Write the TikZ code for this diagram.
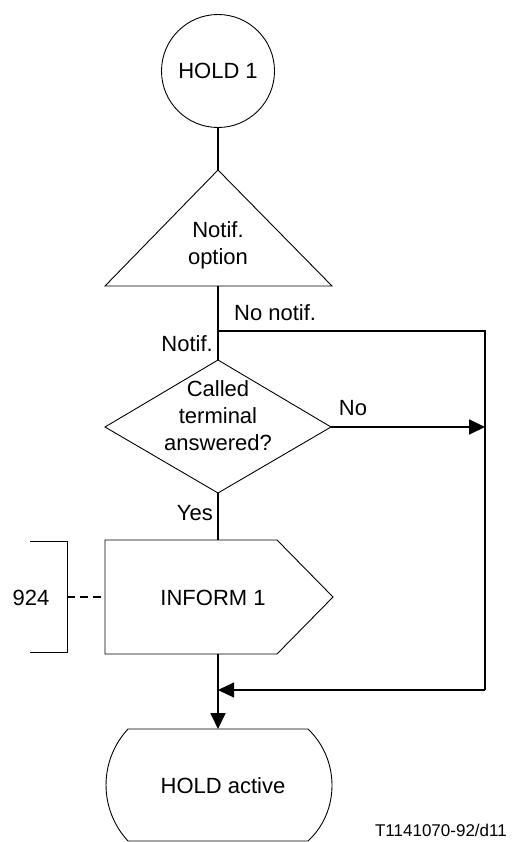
\documentclass[tikz,border=0pt]{standalone}
\usepackage{fontspec}
\setmainfont{Liberation Sans}
\usetikzlibrary{arrows.meta}
\begin{document}
\begin{tikzpicture}[x=1pt,y=-1pt,
  shapeline/.style={draw, line width=0.9pt},
  flow/.style={line width=1.8pt},
  sideflow/.style={line width=1.1pt},
  tip/.style={-{Triangle[length=16pt,width=15pt]}},
  lbl/.style={inner sep=0pt, font=\fontsize{22}{27}\selectfont},
  ]
\useasboundingbox (0,0) rectangle (512,842);
\fill[white] (0,0) rectangle (512,842);

% HOLD 1
\node[circle, shapeline, minimum size=113pt, inner sep=0pt, lbl] (hold1) at (218,71) {HOLD 1};

% Notif. option (triangle)
\draw[shapeline] (218,170) coordinate (tritop) -- (332,286) -- (105,286) -- cycle;
\coordinate (tribot) at (218,286);
\node[lbl, align=center] (notifopt) at (218,245) {Notif.\\option};

% Decision
\draw[shapeline] (218,360) coordinate (diatop) -- (331,427) coordinate (diar) -- (218,493) coordinate (diabot) -- (105,427) -- cycle;
\node[lbl, align=center] (called) at (218,416) {Called\\terminal\\answered?};

% INFORM 1
\draw[shapeline] (105,540) -- (277,540) -- (333,597) -- (277,654) -- (105,654) -- cycle;
\coordinate (inftop) at (218,540);
\coordinate (infbot) at (218,654);
\coordinate (infl) at (105,597);
\node[lbl, anchor=base] (inform) at (213,605) {INFORM 1};

% bracket 924
\draw[shapeline] (30,541) -- (67,541) -- (67,652) -- (30,652);
\coordinate (brk) at (67,597);
\draw[line width=1.8pt, dash pattern=on 8pt off 5pt] (brk) -- (infl);
\node[lbl, anchor=base] (n924) at (31,605) {924};

% HOLD active
\draw[shapeline] (128,729) -- (308,729) .. controls (340,759.5) and (340,811.5) .. (308,841)
  -- (128,841) .. controls (98.7,809.4) and (98.7,760.6) .. (128,729) -- cycle;
\coordinate (hatop) at (218,729);
\node[lbl] (holdactive) at (223,786) {HOLD active};

% connectors
\coordinate (br1) at (218,331);
\coordinate (rt1) at (485,331);
\coordinate (rt2) at (485,427);
\coordinate (rt3) at (485,690);
\coordinate (join) at (218,690);

\draw[flow] (hold1.south) -- (tritop);
\draw[flow] (tribot) -- (diatop);
\draw[sideflow] (br1) -- (rt1) -- (rt3);
\draw[sideflow, tip] (rt3) -- (join);
\draw[flow, tip] (diar) -- (rt2);
\draw[flow] (diabot) -- (inftop);
\draw[flow, tip] (infbot) -- (hatop);

% labels
\node[lbl, anchor=base west] (lnonotif) at (234,320) {No notif.};
\node[lbl, anchor=base east] (lnotif) at (213,351) {Notif.};
\node[lbl, anchor=base] (lno) at (353,415) {No};
\node[lbl, anchor=base east] (lyes) at (213,520) {Yes};
\node[anchor=base east, inner sep=0pt, font=\fontsize{17}{20}\selectfont] (tcode) at (507,836) {T1141070-92/d11};
\end{tikzpicture}
\end{document}
